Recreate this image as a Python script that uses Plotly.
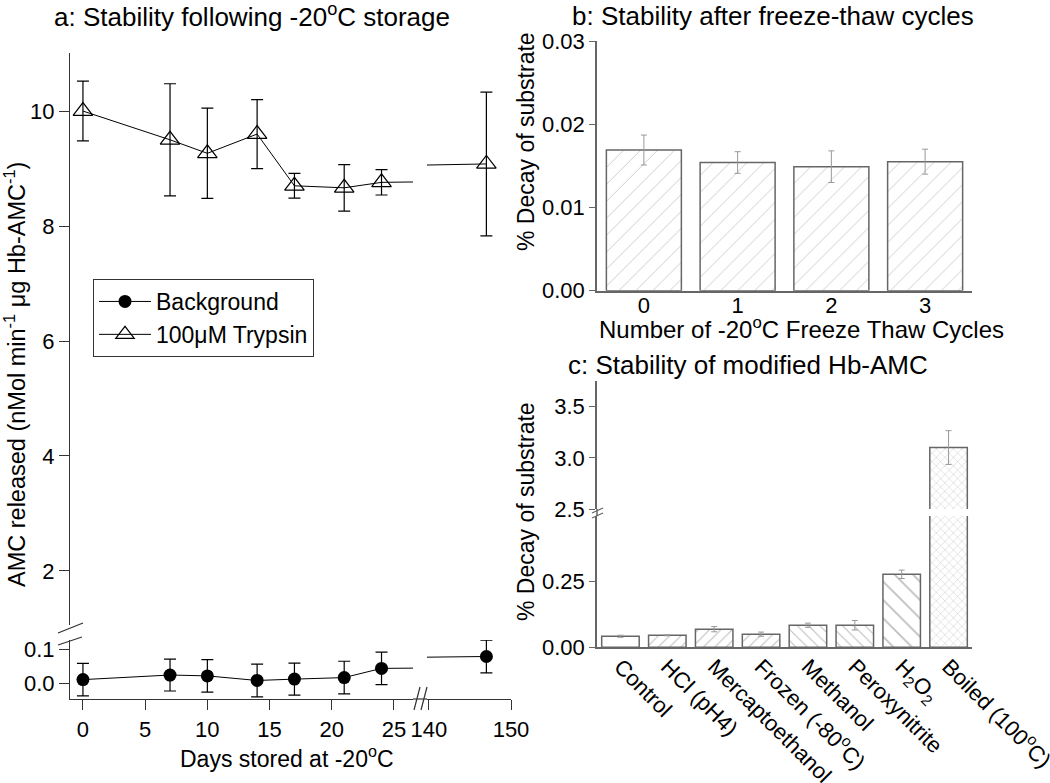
import plotly.graph_objects as go

# ---------------- data ----------------
days = [0, 7, 10, 14, 17, 21, 24, 147]
background = [0.010, 0.0235, 0.021, 0.0075, 0.0115, 0.016, 0.043, 0.078]
background_err = [0.048, 0.047, 0.048, 0.048, 0.047, 0.048, 0.048, 0.048]
trypsin = [10.0, 9.5, 9.265, 9.6, 8.70, 8.665, 8.76, 9.08]
trypsin_err = [0.52, 0.975, 0.785, 0.6, 0.215, 0.405, 0.22, 1.25]

cycles = ["0", "1", "2", "3"]
decay_cycles = [0.0169, 0.0154, 0.0149, 0.0155]
decay_cycles_err = [0.0018, 0.0013, 0.0019, 0.0015]

treatments = ["Control", "HCl (pH4)", "Mercaptoethanol", "Frozen (-80<sup>o</sup>C)",
              "Methanol", "Peroxynitrite", "H<sub>2</sub>O<sub>2</sub>", "Boiled (100<sup>o</sup>C)"]
decay_treat = [0.042, 0.046, 0.069, 0.050, 0.084, 0.084, 0.278, 3.10]
decay_treat_err = [0.004, 0.002, 0.010, 0.008, 0.008, 0.018, 0.016, 0.165]
treat_patterns = ["", "/", "/", "/", "\\", "\\", "\\", "x"]
treat_pattern_size = [8, 8, 8, 8, 8, 8, 13, 6]

W, H = 1050, 783
def fx(p): return p / W
def fy(p): return 1 - p / H

FONT = "Liberation Sans, Arial, sans-serif"
AX_A = "#333333"
AX_BC = "#666666"

fig = go.Figure()

# ---------------- panel a ----------------
bg_style = dict(mode="lines+markers", line=dict(color="black", width=1),
                marker=dict(symbol="circle", size=13, color="black"),
                error_y=dict(type="data", array=background_err, color="black", thickness=1.2, width=6))
tr_style = dict(mode="lines+markers", line=dict(color="black", width=1),
                marker=dict(symbol="triangle-up-open", size=17, color="black", line=dict(width=1.2)),
                error_y=dict(type="data", array=trypsin_err, color="black", thickness=1.2, width=6))

fig.add_trace(go.Scatter(x=days, y=background, name="Background", xaxis="x", yaxis="y",
                         showlegend=True, legendrank=1, **bg_style))
fig.add_trace(go.Scatter(x=days, y=background, name="Background", xaxis="x2", yaxis="y",
                         showlegend=False, **bg_style))
fig.add_trace(go.Scatter(x=days, y=trypsin, name="100\u03bcM Trypsin", xaxis="x3", yaxis="y2",
                         showlegend=True, legendrank=2, **tr_style))
fig.add_trace(go.Scatter(x=days, y=trypsin, name="100\u03bcM Trypsin", xaxis="x4", yaxis="y2",
                         showlegend=False, **tr_style))

# ---------------- panel b ----------------
fig.add_trace(go.Bar(x=cycles, y=decay_cycles, xaxis="x5", yaxis="y3", width=0.8, showlegend=False,
                     marker=dict(color="white", line=dict(color=AX_BC, width=1.5),
                                 pattern=dict(shape="/", size=12, solidity=0.08, fgcolor="#999999",
                                              bgcolor="white")),
                     error_y=dict(type="data", array=decay_cycles_err, color="#999999",
                                  thickness=1, width=3)))

# ---------------- panel c ----------------
bar_c = dict(x=treatments, y=decay_treat, width=0.8, showlegend=False,
             marker=dict(color="white", line=dict(color=AX_BC, width=1.5),
                         pattern=dict(shape=treat_patterns, size=treat_pattern_size, solidity=0.13,
                                      fgcolor="#7a7a7a", bgcolor="white")),
             error_y=dict(type="data", array=decay_treat_err, color="#999999", thickness=1, width=3))
fig.add_trace(go.Bar(xaxis="x6", yaxis="y4", **bar_c))
fig.add_trace(go.Bar(xaxis="x7", yaxis="y5", **bar_c))

tick = dict(size=22, color="black", family=FONT)
base = dict(showgrid=False, zeroline=False, automargin=False, tickfont=tick)

fig.update_layout(
    width=W, height=H, margin=dict(l=0, r=0, t=0, b=0),
    paper_bgcolor="white", plot_bgcolor="white",
    font=dict(family=FONT, size=22, color="black"),
    bargap=0.2,
    # panel a axes
    xaxis=dict(base, domain=[fx(70), fx(413)], range=[-1.04, 26.53], anchor="y",
               showline=True, linecolor=AX_A, linewidth=1.2, ticks="outside", ticklen=10,
               tickcolor=AX_A, tickvals=[0, 5, 10, 15, 20, 25]),
    xaxis2=dict(base, domain=[fx(427), fx(511)], range=[139.76, 150], anchor="y",
                showline=True, linecolor=AX_A, linewidth=1.2, ticks="outside", ticklen=10,
                tickcolor=AX_A, tickvals=[140, 150]),
    xaxis3=dict(base, domain=[fx(70), fx(413)], range=[-1.04, 26.53], anchor="y2", visible=False),
    xaxis4=dict(base, domain=[fx(427), fx(511)], range=[139.76, 150], anchor="y2", visible=False),
    yaxis=dict(base, domain=[fy(699), fy(640)], range=[-0.047, 0.1265], anchor="x",
               showline=True, linecolor=AX_A, linewidth=1.2, ticks="outside", ticklen=10,
               tickcolor=AX_A, tickvals=[0, 0.1], tickformat=".1f"),
    yaxis2=dict(base, domain=[fy(625), fy(53)], range=[1.06, 11.01], anchor="x",
                showline=True, linecolor=AX_A, linewidth=1.2, ticks="outside", ticklen=10,
                tickcolor=AX_A, tickvals=[2, 4, 6, 8, 10]),
    # panel b axes
    xaxis5=dict(base, domain=[fx(597), fx(972)], range=[-0.5, 3.5], anchor="y3", type="category",
                showline=True, linecolor=AX_BC, linewidth=1.5, ticks="", ticklabelstandoff=-6),
    yaxis3=dict(base, domain=[fy(290.7), fy(41)], range=[0, 0.03], anchor="x5",
                showline=True, linecolor=AX_BC, linewidth=1.5, ticks="outside", ticklen=6,
                tickcolor=AX_BC, tickvals=[0, 0.01, 0.02, 0.03], tickformat=".2f"),
    # panel c axes
    xaxis6=dict(base, domain=[fx(597), fx(972)], range=[-0.5, 7.5], anchor="y4", type="category",
                showline=True, linecolor=AX_BC, linewidth=1.5, ticks="", tickangle=45,
                ticklabelstandoff=-4),
    xaxis7=dict(base, domain=[fx(597), fx(972)], range=[-0.5, 7.5], anchor="y5", type="category",
                visible=False),
    yaxis4=dict(base, domain=[fy(647.3), fy(516)], range=[0, 0.5], anchor="x6",
                showline=True, linecolor=AX_BC, linewidth=1.5, ticks="outside", ticklen=6,
                tickcolor=AX_BC, tickvals=[0, 0.25], tickformat=".2f"),
    yaxis5=dict(base, domain=[fy(509), fy(381)], range=[2.5, 3.75], anchor="x7",
                showline=True, linecolor=AX_BC, linewidth=1.5, ticks="outside", ticklen=6,
                tickcolor=AX_BC, tickvals=[2.5, 3.0, 3.5], tickformat=".1f"),
    legend=dict(x=fx(93), y=fy(279), xanchor="left", yanchor="top",
                bgcolor="white", bordercolor=AX_A, borderwidth=1,
                font=dict(size=23, family=FONT, color="black"), tracegroupgap=0,
                itemwidth=52),
)

ann = []
def text(t, x, y, angle=0, size=22):
    ann.append(dict(text=t, x=fx(x), y=fy(y), xref="paper", yref="paper", showarrow=False,
                    xanchor="center", yanchor="middle", textangle=angle,
                    font=dict(size=size, family=FONT, color="black")))

text("a: Stability following -20<sup>o</sup>C storage", 252, 16, size=26)
text("b: Stability after freeze-thaw cycles", 773, 16, size=26)
text("c: Stability of modified Hb-AMC", 748, 365, size=26)
text("Days stored at -20<sup>o</sup>C", 287, 757, size=23)
text("Number of -20<sup>o</sup>C Freeze Thaw Cycles", 801, 328, size=24)
text("AMC released (nMol min<sup>-1</sup> \u03bcg Hb-AMC<sup>-1</sup>)", 15, 375, -90, size=23.5)
text("% Decay of substrate", 526, 142, -90, size=23)
text("% Decay of substrate", 526, 512, -90, size=23)
fig.update_layout(annotations=ann)

shapes = []
def seg(x0, y0, x1, y1, color, w=1.2):
    shapes.append(dict(type="line", xref="paper", yref="paper", x0=fx(x0), y0=fy(y0),
                       x1=fx(x1), y1=fy(y1), line=dict(color=color, width=w)))

# panel a x-axis break
seg(413, 699, 427, 699, AX_A)
seg(414, 710, 420, 687, AX_A)
seg(421, 710, 427, 687, AX_A)
# panel a y-axis break
seg(58, 633, 83, 623, AX_A)
seg(58, 645, 82, 637, AX_A)
# panel c y-axis break
seg(597, 509, 597, 516, AX_BC, 1.5)
seg(592, 513, 603, 508, AX_BC)
seg(592, 518, 603, 513, AX_BC)
fig.update_layout(shapes=shapes)

fig.write_html("out.html", config={"displayModeBar": False},
               post_script="document.body.style.margin='0px';document.body.style.padding='0px';")
